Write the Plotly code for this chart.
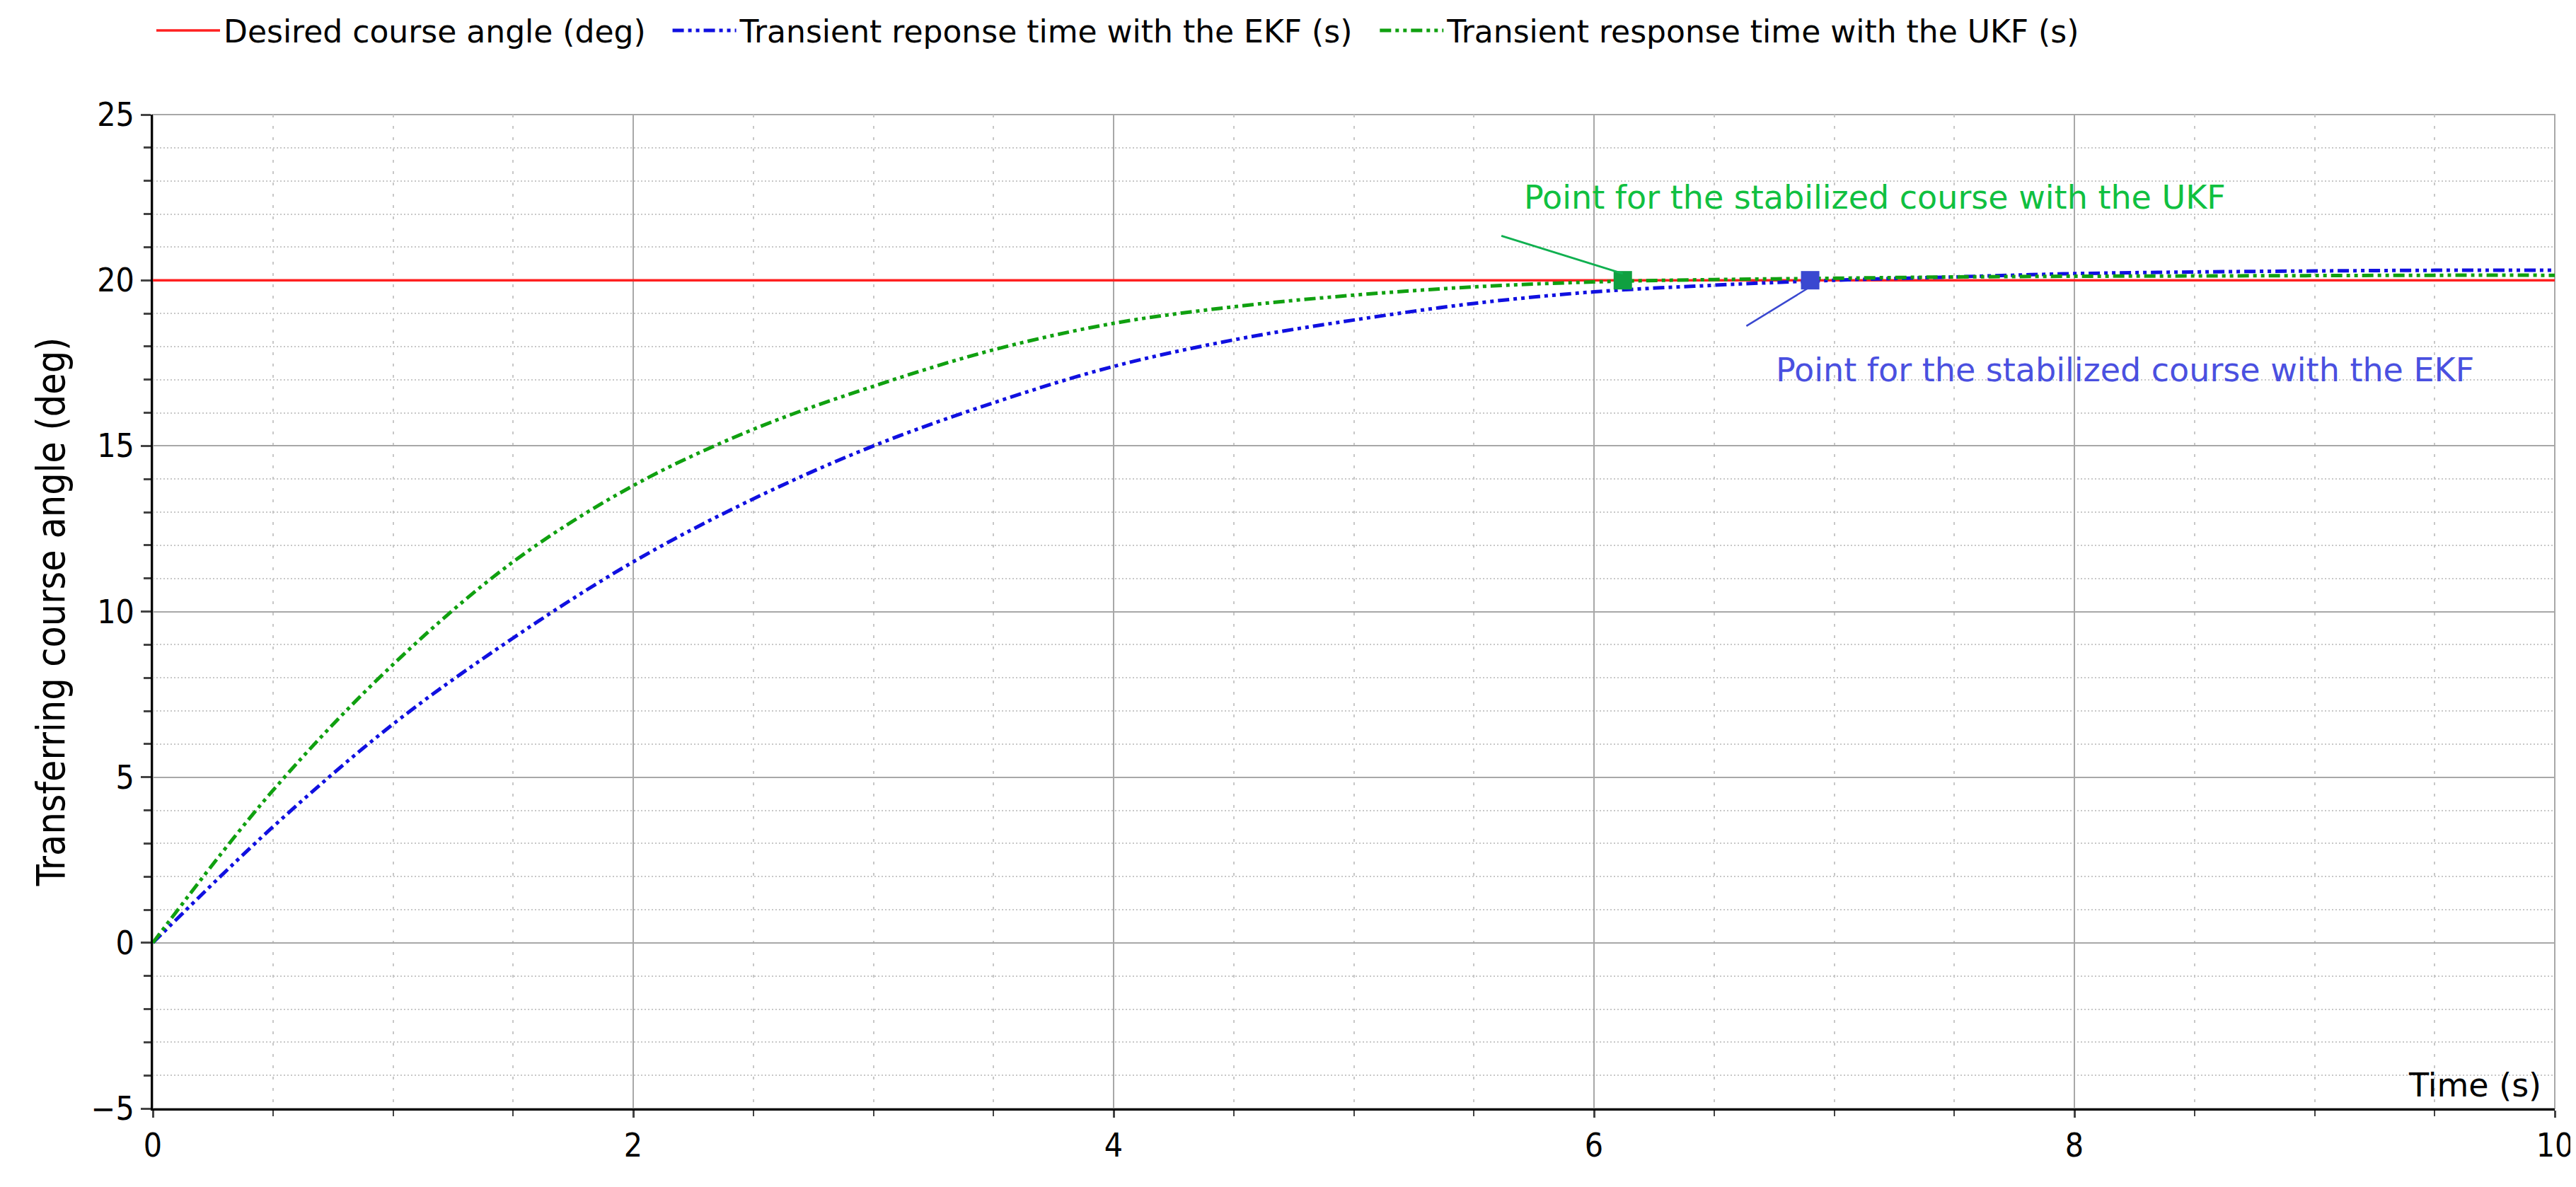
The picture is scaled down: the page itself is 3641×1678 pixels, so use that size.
import plotly.graph_objects as go

t = [0, 0.5, 1, 1.5, 2, 2.5, 3, 3.5, 4, 4.5, 5, 5.5, 6, 6.5, 7, 7.5, 8, 8.5, 9, 9.5, 10]
ekf = [0, 3.5, 6.6, 9.2, 11.5, 13.4, 15.0, 16.3, 17.4, 18.2, 18.8, 19.3, 19.65, 19.85, 20.0, 20.1, 20.2, 20.25, 20.28, 20.3, 20.3]
ukf = [0, 4.6, 8.4, 11.5, 13.8, 15.5, 16.8, 17.9, 18.7, 19.2, 19.55, 19.8, 19.95, 20.02, 20.06, 20.1, 20.12, 20.13, 20.14, 20.15, 20.15]
desired = [20] * len(t)
ukf_point = (6.12, 20)
ekf_point = (6.9, 20)

FONT = "DejaVu Sans Condensed, DejaVu Sans"
WIDE = "DejaVu Sans"
fig = go.Figure()
fig.add_trace(go.Scatter(x=t, y=desired, mode="lines", line=dict(color="#ff2020", width=3.5),
                         name="Desired course angle (deg)  "))
fig.add_trace(go.Scatter(x=t, y=ekf, mode="lines", line=dict(color="#1010e0", width=5, dash="16px,6px,5px,6px,5px,6px"),
                         name="Transient reponse time with the EKF (s)  ", line_shape="spline"))
fig.add_trace(go.Scatter(x=t, y=ukf, mode="lines", line=dict(color="#10a010", width=5, dash="16px,6px,5px,6px,5px,6px"),
                         name="Transient response time with the UKF (s)", line_shape="spline"))
fig.add_trace(go.Scatter(x=[ukf_point[0]], y=[ukf_point[1]], mode="markers", showlegend=False,
                         marker=dict(symbol="square", size=26, color="#10a040")))
fig.add_trace(go.Scatter(x=[ekf_point[0]], y=[ekf_point[1]], mode="markers", showlegend=False,
                         marker=dict(symbol="square", size=26, color="#3a48d0")))

fig.add_annotation(x=ukf_point[0], y=ukf_point[1] + 0.2, ax=5.61, ay=21.35, axref="x", ayref="y",
                   text="", showarrow=True, arrowhead=0, arrowwidth=3, arrowcolor="#10b050")
fig.add_annotation(x=7.17, y=22.5, text="Point for the stabilized course with the UKF", showarrow=False,
                   font=dict(family=WIDE, size=46, color="#10c040"))
fig.add_annotation(x=ekf_point[0], y=ekf_point[1] - 0.2, ax=6.63, ay=18.6, axref="x", ayref="y",
                   text="", showarrow=True, arrowhead=0, arrowwidth=2.5, arrowcolor="#3a48d0")
fig.add_annotation(x=8.21, y=17.3, text="Point for the stabilized course with the EKF", showarrow=False,
                   font=dict(family=WIDE, size=46, color="#4a50e0"))
fig.add_annotation(x=9.95, y=-4.3, text="Time (s)", showarrow=False, xanchor="right",
                   font=dict(family=WIDE, size=46, color="black"))

fig.update_layout(
    width=3641, height=1678, plot_bgcolor="white", paper_bgcolor="white",
    margin=dict(l=208, r=30, t=154, b=119),
    font=dict(family=FONT, size=46, color="black"),
    legend=dict(orientation="h", x=0.0, y=1.0, yref="container", yanchor="top", xanchor="left",
                font=dict(family=WIDE, size=44), itemwidth=90, tracegroupgap=0),
)
fig.update_xaxes(range=[0, 10], tickvals=[0, 2, 4, 6, 8, 10], showgrid=True, gridcolor="#a8a8a8", gridwidth=2,
                 showline=True, linecolor="black", linewidth=3, mirror=False, ticks="outside", ticklen=10,
                 tickwidth=3, zeroline=False,
                 minor=dict(dtick=0.5, showgrid=True, gridcolor="#c8c8c8", griddash="4px,12px", ticks="outside",
                            ticklen=8, tickwidth=2))
fig.update_yaxes(range=[-5, 25], tickvals=[-5, 0, 5, 10, 15, 20, 25], showgrid=True, gridcolor="#a8a8a8",
                 gridwidth=2, showline=True, linecolor="black", linewidth=3, ticks="outside", ticklen=14,
                 tickwidth=3, zeroline=False, title=dict(text="Transferring course angle (deg)", standoff=20),
                 minor=dict(dtick=1, showgrid=True, gridcolor="#c8c8c8", griddash="2px,3px", ticks="outside",
                            ticklen=10, tickwidth=3))
fig.add_shape(type="rect", xref="paper", yref="paper", x0=0, x1=1, y0=0, y1=1,
              line=dict(color="#a8a8a8", width=2), layer="below")
fig.write_html("out.html")
